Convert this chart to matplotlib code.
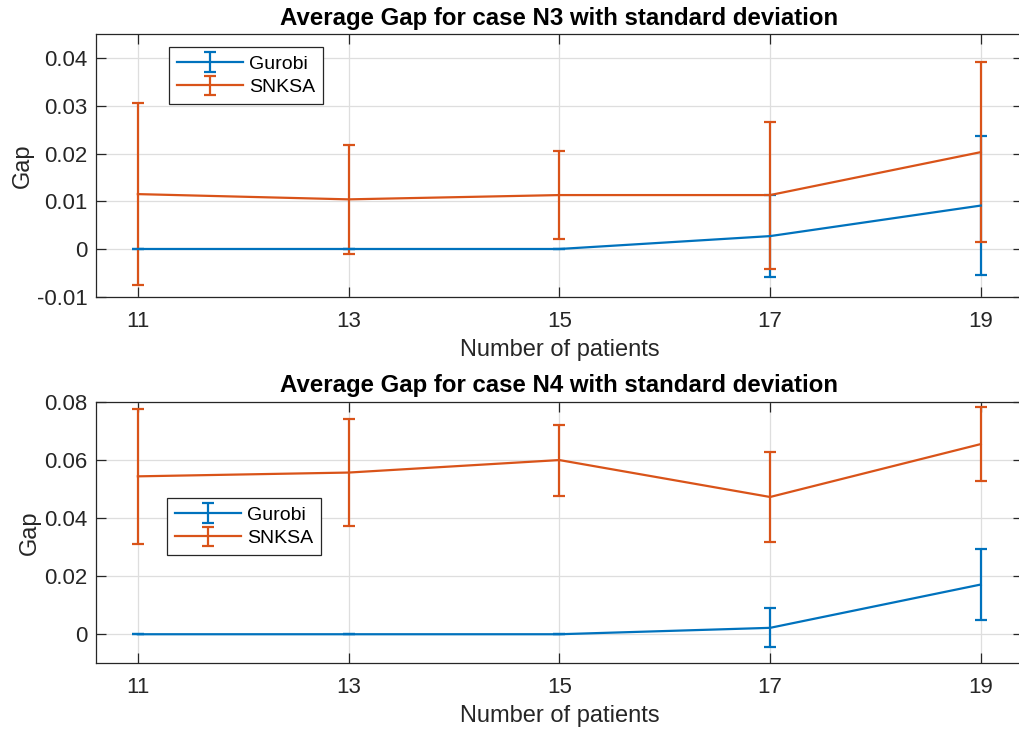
import matplotlib.pyplot as plt
from matplotlib.ticker import FuncFormatter

# number of patients
patients = [11, 13, 15, 17, 19]

# case N3: mean gap and standard deviation
n3_gurobi = [0.0, 0.0, 0.0, 0.0027, 0.0091]
n3_gurobi_std = [0.0, 0.0, 0.0, 0.0086, 0.0145]
n3_snksa = [0.0115, 0.0104, 0.0113, 0.0113, 0.0203]
n3_snksa_std = [0.0190, 0.0114, 0.0093, 0.0154, 0.0189]

# case N4: mean gap and standard deviation
n4_gurobi = [0.0, 0.0, 0.0, 0.0022, 0.0171]
n4_gurobi_std = [0.0, 0.0, 0.0, 0.0067, 0.0122]
n4_snksa = [0.0543, 0.0556, 0.0599, 0.0472, 0.0654]
n4_snksa_std = [0.0233, 0.0183, 0.0122, 0.0155, 0.0127]

n3_yticks = [-0.01, 0, 0.01, 0.02, 0.03, 0.04]
n4_yticks = [0, 0.02, 0.04, 0.06, 0.08]

blue = '#0072BD'
orange = '#D95319'

plt.rcParams['font.family'] = ['Liberation Sans', 'DejaVu Sans']

fig = plt.figure(figsize=(10.19, 7.29), dpi=100)
ax1 = fig.add_axes([0.0939, 0.593, 0.910, 0.360])
ax2 = fig.add_axes([0.0939, 0.0901, 0.910, 0.359])


def draw(ax, g, gs, s, ss, yticks, ylim, title, legend_loc):
    ax.errorbar(patients, g, yerr=gs, color=blue, lw=1.6, capsize=4.3,
                capthick=1.6, label='Gurobi')
    ax.errorbar(patients, s, yerr=ss, color=orange, lw=1.6, capsize=4.3,
                capthick=1.6, label='SNKSA')
    ax.set_xlim(10.6, 19.4)
    ax.set_ylim(*ylim)
    ax.set_xticks(patients)
    ax.set_yticks(yticks)
    ax.yaxis.set_major_formatter(FuncFormatter(lambda v, p: '%g' % round(v, 4)))
    ax.grid(True, color='#dedede', lw=0.9)
    ax.set_axisbelow(True)
    for sp in ax.spines.values():
        sp.set_color('#262626')
        sp.set_linewidth(0.9)
    ax.tick_params(direction='in', length=7, width=0.9, color='#262626',
                   labelcolor='#262626', labelsize=16, top=True, right=True)
    ax.tick_params(axis='y', pad=6)
    ax.tick_params(axis='x', pad=10)
    ax.set_xlabel('Number of patients', fontsize=17, color='#262626', labelpad=5)
    ax.set_ylabel('Gap', fontsize=17, color='#262626', labelpad=2)
    ax.set_title(title, fontsize=17.3, fontweight='bold', pad=7)
    leg = ax.legend(loc='upper left', bbox_to_anchor=legend_loc, fontsize=14,
                    handlelength=3.4, borderaxespad=0, fancybox=False,
                    framealpha=1, borderpad=0.4, labelspacing=0.3,
                    handletextpad=0.3)
    leg.get_frame().set_edgecolor('#262626')
    leg.get_frame().set_linewidth(0.9)


draw(ax1, n3_gurobi, n3_gurobi_std, n3_snksa, n3_snksa_std, n3_yticks,
     (-0.01, 0.045), 'Average Gap for case N3 with standard deviation',
     (0.079, 0.95))
draw(ax2, n4_gurobi, n4_gurobi_std, n4_snksa, n4_snksa_std, n4_yticks,
     (-0.01, 0.08), 'Average Gap for case N4 with standard deviation',
     (0.077, 0.63))

fig.savefig('out.png', dpi=100)
